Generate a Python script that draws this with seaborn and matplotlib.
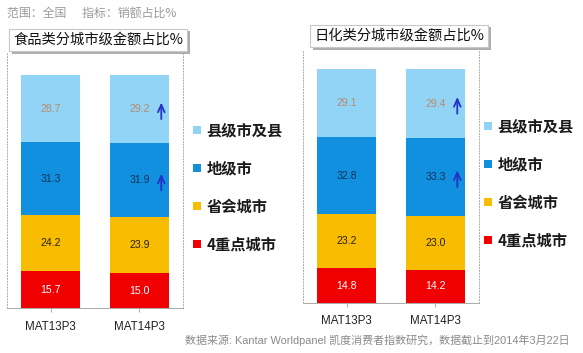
import numpy as np
import pandas as pd
import seaborn as sns
import matplotlib.pyplot as plt
from matplotlib.lines import Line2D
from matplotlib import patheffects

# periods on the x axis
periods = ["MAT13P3", "MAT14P3"]

# city tiers, bottom of the stack first
tiers = ["4重点城市", "省会城市", "地级市", "县级市及县"]
tier_colors = ["#f00000", "#f8bc00", "#1090de", "#92d4f6"]
label_colors = ["white", "#2b2200", "#13335a", "#b88a6a"]

# food: share of sales value by city tier (%)
food_key4 = [15.7, 15.0]
food_capital = [24.2, 23.9]
food_prefecture = [31.3, 31.9]
food_county = [28.7, 29.2]

# daily chemicals: share of sales value by city tier (%)
chem_key4 = [14.8, 14.2]
chem_capital = [23.2, 23.0]
chem_prefecture = [32.8, 33.3]
chem_county = [29.1, 29.4]

food_title = "食品类分城市级金额占比%"
chem_title = "日化类分城市级金额占比%"
scope_text = "范围：全国      指标：销额占比%"
source_text = "数据来源: Kantar Worldpanel 凯度消费者指数研究，数据截止到2014年3月22日"

W, H = 583, 353
DPI = 100

sns.set_theme(style="white")
plt.rcParams["font.family"] = ["Liberation Sans", "Noto Sans CJK SC", "DejaVu Sans"]


def px_box(x0, y0, x1, y1):
    # pixel box (top-left origin) -> figure fraction rect
    return [x0 / W, 1 - y1 / H, (x1 - x0) / W, (y1 - y0) / H]


def draw_panel(ax, layers, ytop, tick_pad):
    layers = np.array(layers)
    cum = np.cumsum(layers, axis=0)
    df = pd.DataFrame(cum.T, columns=tiers)
    df["period"] = periods
    # stacked look: draw cumulative totals from the top layer down
    for i in reversed(range(len(tiers))):
        sns.barplot(data=df, x="period", y=tiers[i], color=tier_colors[i],
                    saturation=1, width=0.663, linewidth=0, ax=ax)
    for i in range(len(tiers)):
        for j in range(len(periods)):
            yc = cum[i][j] - layers[i][j] / 2
            ax.text(j, yc, f"{layers[i][j]:.1f}", ha="center", va="center",
                    fontsize=7.6, color=label_colors[i])
    # rising-share arrows on the latest period
    for i in (2, 3):
        yc = cum[i][1] - layers[i][1] / 2
        ax.annotate("", xy=(1.245, yc + 4), xytext=(1.245, yc - 5.5),
                    arrowprops=dict(arrowstyle="->,head_length=0.45,head_width=0.2",
                                    color="#2233c8", lw=1.3))
    ax.set_xlim(-0.489, 1.489)
    ax.set_ylim(0, ytop)
    ax.set_xlabel("")
    ax.set_ylabel("")
    ax.set_yticks([])
    ax.tick_params(axis="x", length=3, width=0.6, color="#999999", pad=tick_pad,
                   labelsize=8.4, labelcolor="#222222", bottom=True)
    ax.spines["top"].set_visible(False)
    for side in ("left", "right"):
        ax.spines[side].set_linestyle((0, (1, 2)))
        ax.spines[side].set_color("#aaaaaa")
        ax.spines[side].set_linewidth(0.7)
    ax.spines["bottom"].set_color("#aaaaaa")
    ax.spines["bottom"].set_linewidth(0.7)
    ax.set_facecolor("white")


def legend_for(ax, anchor):
    handles = [Line2D([], [], marker="s", linestyle="none", markersize=6,
                      markerfacecolor=c, markeredgewidth=0)
               for c in tier_colors[::-1]]
    ax.legend(handles, tiers[::-1], loc="upper left", bbox_to_anchor=anchor,
              bbox_transform=fig.transFigure, frameon=False,
              prop={"family": ["Noto Sans CJK SC"], "size": 11, "weight": "bold"},
              labelspacing=1.45, handlelength=0.6, handletextpad=0.35,
              borderaxespad=0, borderpad=0, labelcolor="#1a1a1a")


def title_box(x, y, text):
    t = fig.text(x, y, text, ha="center", va="center", fontsize=10.3,
                 family=["Noto Sans CJK SC"], color="#111111",
                 bbox=dict(boxstyle="square,pad=0.3", fc="white", ec="#c8c8c8", lw=0.8))
    t.get_bbox_patch().set_path_effects(
        [patheffects.SimplePatchShadow(offset=(2, -2), shadow_rgbFace="#9a9a9a", alpha=0.8),
         patheffects.Normal()])


fig = plt.figure(figsize=(W / DPI, H / DPI), dpi=DPI)
fig.patch.set_facecolor("white")

ax1 = fig.add_axes(px_box(7, 52, 183, 308))
draw_panel(ax1, [food_key4, food_capital, food_prefecture, food_county], 109.9, 6)
legend_for(ax1, (192 / W, 1 - 122 / H))

ax2 = fig.add_axes(px_box(303, 50, 479, 303))
draw_panel(ax2, [chem_key4, chem_capital, chem_prefecture, chem_county], 108.1, 6)
legend_for(ax2, (483 / W, 1 - 118 / H))

fig.text(7 / W, 1 - 13 / H, scope_text, ha="left", va="center", fontsize=8.6,
         color="#9a9a9a", family=["Noto Sans CJK SC"])
title_box(98 / W, 1 - 40 / H, food_title)
title_box(399 / W, 1 - 36 / H, chem_title)
fig.text(570 / W, 1 - 340 / H, source_text, ha="right", va="center", fontsize=7.9,
         color="#8a8a8a", family=["Liberation Sans", "Noto Sans CJK SC"])

fig.savefig("out.png", dpi=DPI, facecolor="white")
